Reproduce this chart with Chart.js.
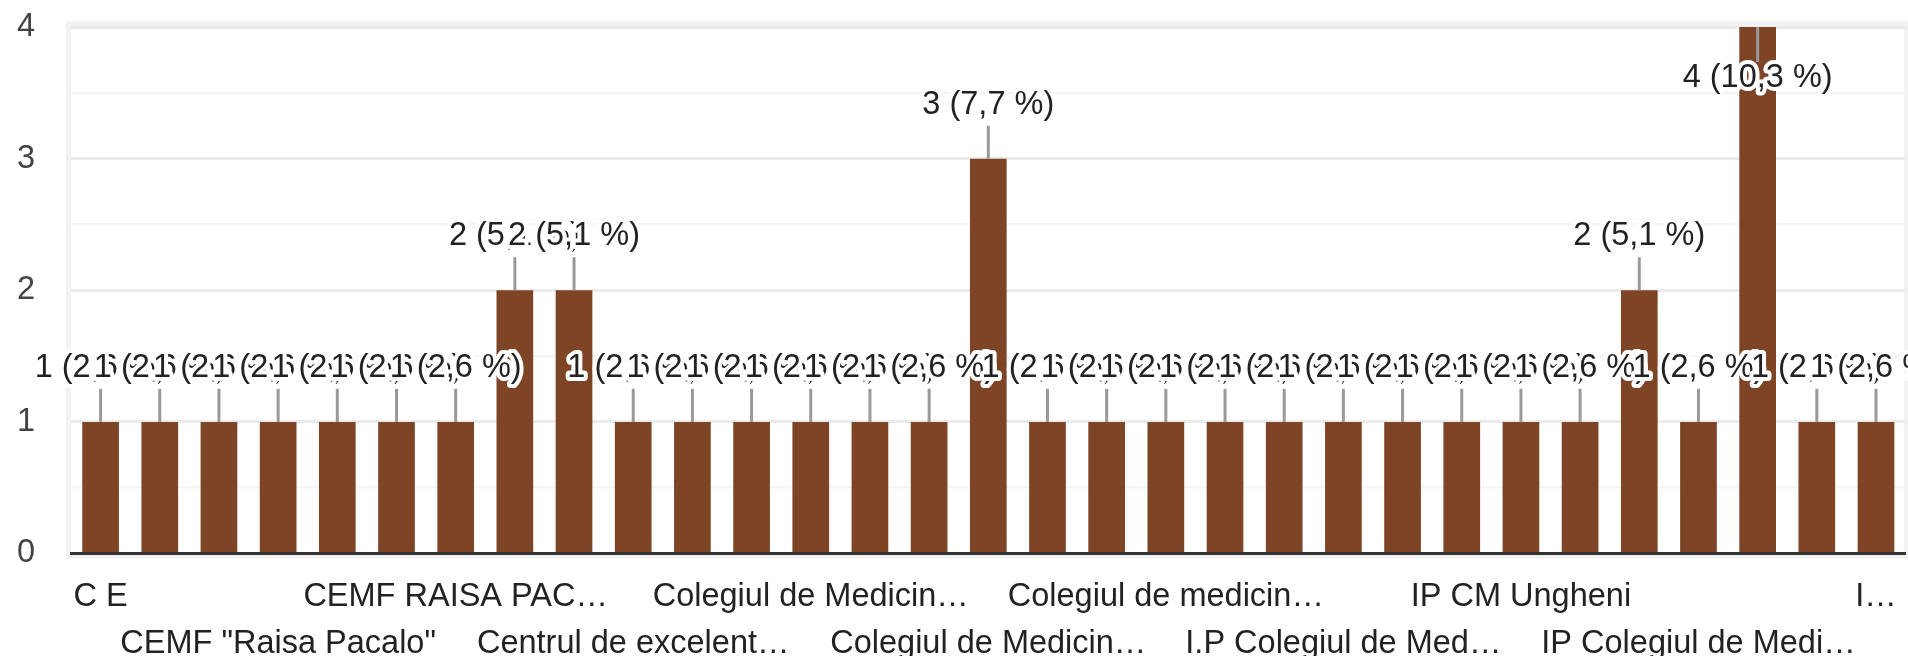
<!DOCTYPE html>
<html>
<head>
<meta charset="utf-8">
<script src="https://cdn.jsdelivr.net/npm/chart.js@4.4.1/dist/chart.umd.min.js"></script>
<style>
html,body{margin:0;padding:0;background:#fff;overflow:hidden}
#wrap{width:1908px;height:656px;position:relative}
</style>
</head>
<body>
<div id="wrap"><canvas id="c" width="1908" height="656"></canvas></div>
<script>
// Categories (only every third name is legible in the reference; the rest are left blank)
const categories = [
  "C E", "", "",
  "CEMF \"Raisa Pacalo\"", "", "",
  "CEMF RAISA PAC…", "", "",
  "Centrul de excelent…", "", "",
  "Colegiul de Medicin…", "", "",
  "Colegiul de Medicin…", "", "",
  "Colegiul de medicin…", "", "",
  "I.P Colegiul de Med…", "", "",
  "IP CM Ungheni", "", "",
  "IP Colegiul de Medi…", "", "",
  "I…"
];
// Number of responses per category
const counts = [1,1,1,1,1,1,1,2,2,1,1,1,1,1,1,3,1,1,1,1,1,1,1,1,1,1,2,1,4,1,1];
// Y axis tick labels
const yTicks = [0, 1, 2, 3, 4];

const FAMILY = "'Liberation Sans', Arial, sans-serif";
const FSIZE = 32.5;
const BAR_COLOR = '#7d4526';

const framePlugin = {
  id: 'frame',
  beforeDraw(chart) {
    const {ctx, chartArea: a} = chart;
    ctx.save();
    ctx.strokeStyle = '#f2f2f2';
    ctx.lineWidth = 5;
    ctx.strokeRect(a.left - 2.5, a.top - 3.5, (a.right - a.left) + 3.5, (a.bottom - a.top) + 6.5);
    ctx.restore();
  }
};

const annotatePlugin = {
  id: 'annotate',
  afterDatasetsDraw(chart) {
    const ctx = chart.ctx;
    const meta = chart.getDatasetMeta(0);
    const total = counts.reduce((s, v) => s + v, 0);
    const items = meta.data.map((el, i) => {
      const v = counts[i];
      const text = v + ' (' + (v / total * 100).toFixed(1).replace('.', ',') + ' %)';
      const above = (el.y - 54 - 20) > 0;
      const ty = above ? el.y - 54 : el.y + 51;
      const stemEnd = above ? ty + 21 : ty - 16;
      return {x: el.x, top: el.y, ty, stemEnd, text};
    });
    ctx.save();
    ctx.strokeStyle = '#999999';
    ctx.lineWidth = 3;
    items.forEach(it => {
      ctx.beginPath();
      ctx.moveTo(it.x, it.top);
      ctx.lineTo(it.x, it.stemEnd);
      ctx.stroke();
    });
    ctx.font = FSIZE + 'px ' + FAMILY;
    ctx.textAlign = 'center';
    ctx.textBaseline = 'middle';
    ctx.lineJoin = 'round';
    items.forEach(it => {
      ctx.lineWidth = 8;
      ctx.strokeStyle = '#ffffff';
      ctx.strokeText(it.text, it.x, it.ty);
      ctx.fillStyle = '#222222';
      ctx.fillText(it.text, it.x, it.ty);
    });
    ctx.restore();
  }
};

new Chart(document.getElementById('c'), {
  type: 'bar',
  data: {
    labels: categories,
    datasets: [{
      data: counts,
      backgroundColor: BAR_COLOR,
      borderWidth: 0,
      barPercentage: 0.62,
      categoryPercentage: 1.0
    }]
  },
  options: {
    responsive: false,
    animation: false,
    devicePixelRatio: 1,
    layout: {padding: {top: 27, right: 2.4, bottom: 0, left: 0}},
    plugins: {legend: {display: false}, tooltip: {enabled: false}},
    scales: {
      x: {
        z: 1,
        offset: true,
        grid: {display: false},
        border: {display: true, color: '#333333', width: 3},
        ticks: {
          autoSkip: false,
          maxRotation: 0,
          minRotation: 0,
          padding: 12,
          color: '#222222',
          font: {family: FAMILY, size: FSIZE, lineHeight: 47 / FSIZE},
          callback(value, index) {
            if (index % 3 !== 0) return '';
            const lab = categories[index];
            return ((index / 3) % 2 === 1) ? ['', lab] : lab;
          }
        },
        afterFit(s) { s.height = 102.5; s.paddingLeft = 0; s.paddingRight = 0; }
      },
      y: {
        min: yTicks[0],
        max: yTicks[yTicks.length - 1],
        grid: {
          drawTicks: false,
          color: c => (c.tick && c.tick.value % 1 === 0) ? '#ebebeb' : '#f5f5f5',
          lineWidth: c => (c.tick && c.tick.value % 1 === 0) ? 3 : 2.5
        },
        border: {display: false},
        ticks: {
          stepSize: 0.5,
          padding: 36,
          color: '#444444',
          font: {family: FAMILY, size: FSIZE},
          callback: v => yTicks.includes(v) ? String(v) : ''
        },
        afterFit(s) { s.width = 71; s.paddingTop = 0; s.paddingBottom = 0; }
      }
    }
  },
  plugins: [framePlugin, annotatePlugin]
});
</script>
</body>
</html>
